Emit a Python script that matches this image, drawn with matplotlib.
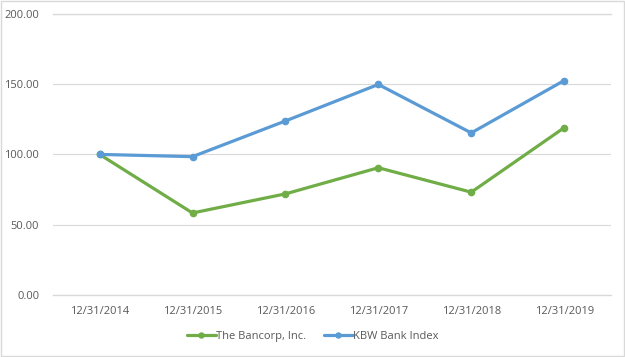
import matplotlib
matplotlib.use("Agg")
import matplotlib.pyplot as plt
from matplotlib.patches import Rectangle

# cumulative total return, base 100 at 12/31/2014
dates = ["12/31/2014", "12/31/2015", "12/31/2016", "12/31/2017", "12/31/2018", "12/31/2019"]
bancorp = [100.00, 58.3, 71.9, 90.5, 73.1, 119.0]
kbw = [100.00, 98.4, 123.8, 149.8, 115.3, 152.6]
series_names = ["The Bancorp, Inc.", "KBW Bank Index"]
y_ticks = [0, 50, 100, 150, 200]

GREEN = "#70AD47"
BLUE = "#5B9BD5"
TEXT_C = "#595959"
GRID_C = "#D9D9D9"

plt.rcParams["font.family"] = ["Open Sans", "DejaVu Sans"]

fig = plt.figure(figsize=(6.25, 3.57), dpi=100)
ax = fig.add_axes([0.085, 0.174, 0.892, 0.787])

x = list(range(len(dates)))
ax.plot(x, bancorp, color=GREEN, lw=2.3, marker="o", ms=4.5, label=series_names[0],
        solid_capstyle="round", zorder=3)
ax.plot(x, kbw, color=BLUE, lw=2.3, marker="o", ms=4.5, label=series_names[1],
        solid_capstyle="round", zorder=3)

ax.set_xlim(-0.5, len(dates) - 0.5)
ax.set_ylim(0, 200)
ax.set_yticks(y_ticks)
ax.set_yticklabels([f"{v:.2f}" for v in y_ticks])
ax.set_xticks(x)
ax.set_xticklabels(dates)
ax.tick_params(length=0, labelsize=8, colors=TEXT_C)
ax.tick_params(axis="y", pad=10)
ax.tick_params(axis="x", pad=8)
ax.yaxis.grid(True, color=GRID_C, lw=0.8)
ax.set_axisbelow(True)
for name, s in ax.spines.items():
    s.set_visible(name in ("bottom", "top"))
    s.set_color(GRID_C)
    s.set_linewidth(1.0)

fig.legend(loc="center", bbox_to_anchor=(0.5, 0.057), ncol=2, frameon=False,
           fontsize=8, labelcolor=TEXT_C, handlelength=2.6, handletextpad=0.0,
           columnspacing=1.6, markerscale=0.8)

fig.patches.append(Rectangle((0.001, 0.002), 0.997, 0.995, transform=fig.transFigure,
                             fill=False, edgecolor="#D9D9D9", lw=1))

fig.savefig("out.png", dpi=100)
